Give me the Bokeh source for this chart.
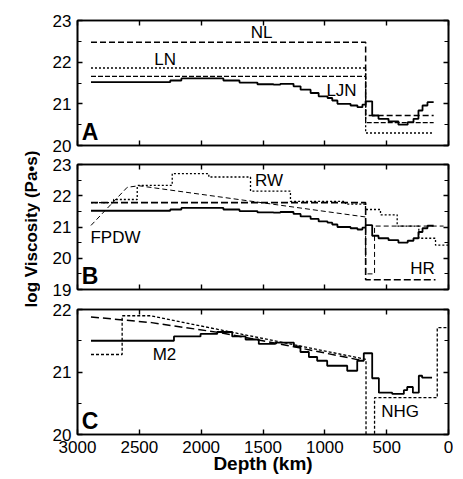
import math
from bokeh.plotting import figure
from bokeh.models import Range1d, FixedTicker, LinearAxis
from bokeh.layouts import row, column
from bokeh.core.properties import value
from bokeh.embed import file_html
from bokeh.resources import INLINE

FONT = "Liberation Sans"

# ---------------- data ----------------
x_ticks = [0, 500, 1000, 1500, 2000, 2500, 3000]

# Panel A
nl_bounds = [2891, 670, 120]
nl_visc = [22.48, 20.72]
ln_bounds = [2891, 670, 120]
ln_visc = [21.86, 20.30]
m3_bounds = [2891, 670, 120]
m3_visc = [21.66, 20.55]
ljn_bounds = [2891, 2250, 2160, 1820, 1690, 1545, 1415, 1360, 1253, 1196, 1115,
              1050, 978, 940, 898, 792, 736, 696, 670, 617, 566, 485, 405, 330,
              283, 243, 210, 170, 120]
ljn_visc = [21.52, 21.56, 21.61, 21.56, 21.51, 21.47, 21.46, 21.48, 21.42, 21.34,
            21.26, 21.18, 21.14, 21.08, 21.00, 20.96, 20.92, 20.98, 21.06, 20.72,
            20.64, 20.58, 20.50, 20.56, 20.64, 20.84, 20.96, 21.04]
labA_text = ["NL", "LN", "LJN"]
labA_x = [1512, 2292, 865]
labA_y = [22.71, 22.06, 21.31]

# Panel B
hr_bounds = [2891, 670, 105]
hr_visc = [21.78, 19.31]
rw_bounds = [2891, 2708, 2517, 2234, 1938, 1601, 1278, 833, 671, 550, 415, 240, 105, 0]
rw_visc = [21.78, 21.88, 22.33, 22.71, 22.60, 22.15, 21.82, 21.73, 21.56, 21.39,
           21.03, 20.64, 20.42]
fpdw_depth = [2891, 2598, 2504, 670, 670, 598, 598, 40]
fpdw_visc = [21.05, 22.27, 22.32, 21.32, 19.50, 19.50, 21.03, 21.03]
labB_text = ["RW", "FPDW", "HR"]
labB_x = [1451, 2693, 210]
labB_y = [22.49, 20.68, 19.66]

# Panel C
lin_depth = [2891, 2400, 1850, 1290, 690]
lin_visc = [21.88, 21.79, 21.63, 21.42, 21.18]
nhg_depth = [2891, 2639, 2639, 2410, 685, 667, 667, 598, 598, 91, 91, 0]
nhg_visc = [21.28, 21.28, 21.90, 21.90, 21.21, 21.20, 19.50, 19.50, 20.59, 20.59, 21.71, 21.71]
m2_bounds = [2891, 2220, 2005, 1870, 1749, 1641, 1534, 1400, 1250, 1197, 1129,
             1062, 981, 819, 738, 685, 617, 563, 455, 361, 334, 288, 240, 213, 133]
m2_visc = [21.50, 21.57, 21.61, 21.64, 21.57, 21.52, 21.45, 21.47, 21.41, 21.32,
           21.24, 21.18, 21.10, 21.02, 21.18, 21.30, 20.90, 20.67, 20.65, 20.71,
           20.76, 20.67, 20.94, 20.91]
labC_text = ["M2", "NHG"]
labC_x = [2297, 392]
labC_y = [21.28, 20.37]

panel_letters = ["A", "B", "C"]
letter_x = 2965
letter_y = [20.01, 19.01, 20.01]


def steps(bounds, vals):
    xs, ys = [], []
    for i, v in enumerate(vals):
        xs += [bounds[i], bounds[i + 1]]
        ys += [v, v]
    return xs, ys


def style_axis(ax, ticks, minor, show_labels):
    ax.ticker = FixedTicker(ticks=ticks, minor_ticks=minor)
    ax.axis_line_color = "black"
    ax.axis_line_width = 1.6
    ax.major_tick_in = 5
    ax.major_tick_out = 0
    ax.major_tick_line_color = "black"
    ax.major_tick_line_width = 1.4
    ax.minor_tick_in = 4
    ax.minor_tick_out = 0
    ax.minor_tick_line_color = "black" if minor else None
    ax.minor_tick_line_width = 1.2
    if show_labels:
        ax.major_label_text_font = FONT
        ax.major_label_text_font_size = "17px"
        ax.major_label_text_color = "black"
    else:
        ax.major_label_text_font_size = "0px"
        ax.major_label_text_color = None
        ax.major_label_standoff = 0


def make_panel(yr, yticks, yminor, top, bottom, xlabels):
    p = figure(frame_width=371, frame_height=125,
               x_range=Range1d(3000, 0), y_range=Range1d(*yr),
               output_backend="svg", toolbar_location=None,
               min_border_left=37, min_border_right=5,
               min_border_top=top, min_border_bottom=bottom)
    p.xgrid.visible = False
    p.ygrid.visible = False
    p.outline_line_color = "black"
    p.outline_line_width = 1.6
    p.background_fill_color = "white"
    p.border_fill_color = "white"
    style_axis(p.xaxis[0], x_ticks, [], xlabels)
    style_axis(p.yaxis[0], yticks, yminor, True)
    p.yaxis[0].major_label_standoff = 6
    if xlabels:
        p.xaxis[0].major_label_standoff = 6
        p.xaxis[0].axis_label = "Depth (km)"
        p.xaxis[0].axis_label_text_font = FONT
        p.xaxis[0].axis_label_text_font_style = "bold"
        p.xaxis[0].axis_label_text_font_size = "19px"
        p.xaxis[0].axis_label_text_color = "black"
        p.xaxis[0].axis_label_standoff = -3
    ra = LinearAxis()
    style_axis(ra, yticks, yminor, False)
    p.add_layout(ra, "right")
    ta = LinearAxis()
    style_axis(ta, x_ticks, [], False)
    p.add_layout(ta, "above")
    return p


def add_labels(p, xs, ys, texts):
    p.text(x=xs, y=ys, text=texts, text_font=value(FONT),
           text_font_size=value("17px"), text_align="center",
           text_baseline="middle", text_color="black")


def add_letter(p, letter, y):
    p.text(x=[letter_x], y=[y], text=[letter], text_font=value(FONT),
           text_font_size=value("23px"), text_font_style="bold",
           text_align="left", text_baseline="bottom", text_color="black")


# Panel A
pa = make_panel((20, 23), [20, 21, 22, 23], [20.5, 21.5, 22.5], 20, 9, False)
x, y = steps(nl_bounds, nl_visc)
pa.line(x, y, line_color="black", line_width=1.5, line_dash="6 3")
x, y = steps(ln_bounds, ln_visc)
pa.line(x, y, line_color="black", line_width=1.3, line_dash="2 2")
x, y = steps(m3_bounds, m3_visc)
pa.line(x, y, line_color="black", line_width=1.3, line_dash="5 2")
x, y = steps(ljn_bounds, ljn_visc)
pa.line(x, y, line_color="black", line_width=1.8)
add_labels(pa, labA_x, labA_y, labA_text)
add_letter(pa, panel_letters[0], letter_y[0])

# Panel B
pb = make_panel((19, 23), [19, 20, 21, 22, 23], [19.5, 20.5, 21.5, 22.5], 10, 10, False)
x, y = steps(hr_bounds, hr_visc)
pb.line(x, y, line_color="black", line_width=1.6, line_dash="7 3")
x, y = steps(rw_bounds, rw_visc)
pb.line(x, y, line_color="black", line_width=1.3, line_dash="2 2")
pb.line(fpdw_depth, fpdw_visc, line_color="black", line_width=1.0, line_dash="5 3")
x, y = steps(ljn_bounds, ljn_visc)
pb.line(x, y, line_color="black", line_width=1.8)
add_labels(pb, labB_x, labB_y, labB_text)
add_letter(pb, panel_letters[1], letter_y[1])

# Panel C
pc = make_panel((20, 22), [20, 21, 22], [20.5, 21.5], 10, 44, True)
pc.line(lin_depth, lin_visc, line_color="black", line_width=1.5, line_dash="8 4")
pc.line(nhg_depth, nhg_visc, line_color="black", line_width=1.3, line_dash="3 2")
x, y = steps(m2_bounds, m2_visc)
pc.line(x, y, line_color="black", line_width=1.8)
add_labels(pc, labC_x, labC_y, labC_text)
add_letter(pc, panel_letters[2], letter_y[2])

# y-axis title strip
H = 478
pl = figure(width=40, height=H, x_range=Range1d(0, 40), y_range=Range1d(0, H),
            output_backend="svg", toolbar_location=None, min_border=0)
pl.axis.visible = False
pl.xgrid.visible = False
pl.ygrid.visible = False
pl.outline_line_color = None
pl.text(x=[31], y=[H - 228.5], text=["log Viscosity (Pa\u2022s)"], angle=math.pi / 2,
        text_font=value(FONT), text_font_size=value("17px"), text_font_style="bold",
        text_align="center", text_baseline="middle", text_color="black")

layout = row(pl, column(pa, pb, pc, spacing=0), spacing=0)
open("out.html", "w").write(file_html(layout, INLINE))
